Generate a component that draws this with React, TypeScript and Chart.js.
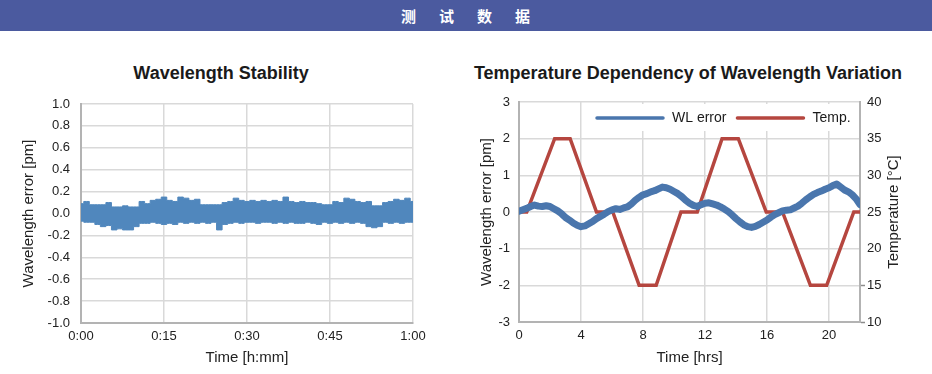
import React, { useEffect, useRef } from 'react';
import { Chart, registerables } from 'chart.js';

Chart.register(...registerables);

const HEADER_TEXT = '测试数据';
const LEFT_TITLE = 'Wavelength Stability';
const RIGHT_TITLE = 'Temperature Dependency of Wavelength Variation';

// Left chart: one-minute envelope of the noisy wavelength error band (pm)
const stabilityTickLabels = ['0:00', '0:15', '0:30', '0:45', '1:00'];
const stabilityMinutes = [
  0, 1, 2, 3, 4, 5, 6, 7, 8, 9, 10, 11, 12, 13, 14, 15, 16, 17, 18, 19, 20,
  21, 22, 23, 24, 25, 26, 27, 28, 29, 30, 31, 32, 33, 34, 35, 36, 37, 38, 39, 40,
  41, 42, 43, 44, 45, 46, 47, 48, 49, 50, 51, 52, 53, 54, 55, 56, 57, 58, 59, 60,
];
const stabilityUpper = [
  0.09, 0.11, 0.08, 0.08, 0.08, 0.1, 0.06, 0.06, 0.07, 0.06, 0.06,
  0.11, 0.09, 0.12, 0.13, 0.15, 0.12, 0.11, 0.15, 0.14, 0.12,
  0.13, 0.08, 0.08, 0.08, 0.08, 0.1, 0.11, 0.14, 0.12, 0.11,
  0.12, 0.11, 0.12, 0.11, 0.12, 0.11, 0.15, 0.11, 0.1, 0.11,
  0.1, 0.1, 0.09, 0.08, 0.08, 0.11, 0.1, 0.14, 0.13, 0.11,
  0.1, 0.11, 0.07, 0.07, 0.1, 0.11, 0.13, 0.12, 0.14, 0.11,
];
const stabilityLower = [
  -0.07, -0.08, -0.08, -0.1, -0.12, -0.11, -0.15, -0.14, -0.15, -0.15, -0.12,
  -0.09, -0.09, -0.08, -0.09, -0.1, -0.09, -0.1, -0.08, -0.09, -0.08,
  -0.09, -0.08, -0.09, -0.08, -0.15, -0.1, -0.09, -0.08, -0.09, -0.08,
  -0.08, -0.09, -0.08, -0.08, -0.09, -0.08, -0.09, -0.08, -0.09, -0.09,
  -0.08, -0.09, -0.1, -0.08, -0.09, -0.08, -0.09, -0.08, -0.09, -0.08,
  -0.09, -0.12, -0.13, -0.12, -0.08, -0.09, -0.08, -0.09, -0.08, -0.08,
];

// Right chart
const wlHours = [
  0, 0.25, 0.5, 0.75, 1, 1.25, 1.5, 1.75, 2, 2.25, 2.5, 2.75, 3, 3.25, 3.5, 3.75,
  4, 4.25, 4.5, 4.75, 5, 5.25, 5.5, 5.75, 6, 6.25, 6.5, 6.75, 7, 7.25, 7.5, 7.75,
  8, 8.25, 8.5, 8.75, 9, 9.25, 9.5, 9.75, 10, 10.25, 10.5, 10.75, 11, 11.25, 11.5, 11.75,
  12, 12.25, 12.5, 12.75, 13, 13.25, 13.5, 13.75, 14, 14.25, 14.5, 14.75, 15, 15.25, 15.5, 15.75,
  16, 16.25, 16.5, 16.75, 17, 17.25, 17.5, 17.75, 18, 18.25, 18.5, 18.75, 19, 19.25, 19.5, 19.75,
  20, 20.25, 20.5, 20.75, 21, 21.25, 21.5, 21.75, 22,
];
const wlError = [
  0.02, 0.06, 0.1, 0.15, 0.19, 0.16, 0.15, 0.17, 0.15, 0.09, 0.03, -0.05, -0.15, -0.22, -0.3, -0.36,
  -0.4, -0.38, -0.32, -0.26, -0.18, -0.12, -0.06, 0.01, 0.06, 0.09, 0.07, 0.11, 0.14, 0.22, 0.32, 0.4,
  0.47, 0.5, 0.55, 0.58, 0.63, 0.68, 0.66, 0.62, 0.56, 0.5, 0.42, 0.32, 0.24, 0.18, 0.15, 0.2,
  0.24, 0.25, 0.22, 0.19, 0.14, 0.08, 0.01, -0.08, -0.18, -0.27, -0.35, -0.4, -0.42, -0.39, -0.34, -0.28,
  -0.22, -0.14, -0.07, -0.02, 0.03, 0.05, 0.06, 0.11, 0.16, 0.24, 0.33, 0.41, 0.48, 0.53, 0.57, 0.62,
  0.66, 0.72, 0.76, 0.68, 0.6, 0.55, 0.47, 0.36, 0.2,
];
const tempHours = [0, 0.5, 2.3, 3.3, 5.0, 6.05, 7.75, 8.85, 10.45, 11.5, 13.1, 14.15, 15.95, 17.0, 18.8, 19.85, 21.6, 22];
const tempValues = [25, 25, 35, 35, 25, 25, 15, 15, 25, 25, 35, 35, 25, 25, 15, 15, 25, 25];

const FONT = '"Liberation Sans", Arial, Helvetica, sans-serif';
const TEXT = '#222222';
const GRID = '#d9d9d9';
const AXIS = '#b3b3b3';
const BLUE_L = '#5087bd';
const BLUE_R = '#4a76ad';
const RED = '#b5463f';

Chart.defaults.font.family = FONT;
Chart.defaults.color = TEXT;

const insideLegend = {
  id: 'insideLegend',
  afterDatasetsDraw(chart: any) {
    const { ctx, chartArea } = chart;
    const bx = chartArea.left + 66;
    const by = chartArea.top + 2;
    const bw = 267;
    const bh = 27;
    ctx.save();
    ctx.fillStyle = '#ffffff';
    ctx.fillRect(bx, by, bw, bh);
    ctx.font = `14px ${FONT}`;
    ctx.textBaseline = 'middle';
    ctx.textAlign = 'left';
    const y = by + 14;
    let x = bx + 12;
    chart.data.datasets.forEach((ds: any) => {
      ctx.strokeStyle = ds.borderColor;
      ctx.lineWidth = 3.5;
      ctx.lineCap = 'round';
      ctx.beginPath();
      ctx.moveTo(x, y);
      ctx.lineTo(x + 66, y);
      ctx.stroke();
      ctx.fillStyle = '#1a1a1a';
      ctx.fillText(ds.label, x + 75, y);
      x += 75 + ctx.measureText(ds.label).width + 11;
    });
    ctx.restore();
  },
};

// Right-axis title reading bottom-to-top (as in the reference)
const rightAxisTitle = {
  id: 'rightAxisTitle',
  afterDraw(chart: any, _args: any, opts: any) {
    const { ctx, chartArea } = chart;
    const s = chart.scales.y2;
    ctx.save();
    ctx.translate(s.right - opts.offset, (chartArea.top + chartArea.bottom) / 2);
    ctx.rotate(-Math.PI / 2);
    ctx.font = `15px ${FONT}`;
    ctx.fillStyle = TEXT;
    ctx.textAlign = 'center';
    ctx.textBaseline = 'middle';
    ctx.fillText(opts.text, 0, 0);
    ctx.restore();
  },
};

function StabilityChart() {
  const ref = useRef<HTMLCanvasElement>(null);
  useEffect(() => {
    const chart = new Chart(ref.current as HTMLCanvasElement, {
      type: 'line',
      data: {
        datasets: [
          {
            label: 'upper',
            data: stabilityMinutes.map((x, i) => ({ x, y: stabilityUpper[i] })),
            borderColor: BLUE_L,
            backgroundColor: BLUE_L,
            borderWidth: 1,
            pointRadius: 0,
            fill: '+1',
            stepped: 'middle',
          },
          {
            label: 'lower',
            data: stabilityMinutes.map((x, i) => ({ x, y: stabilityLower[i] })),
            borderColor: BLUE_L,
            backgroundColor: BLUE_L,
            borderWidth: 1,
            pointRadius: 0,
            fill: false,
            stepped: 'middle',
          },
        ],
      },
      options: {
        responsive: false,
        animation: false,
        layout: { padding: { top: 64, right: 37, bottom: 0, left: 0 } },
        plugins: { legend: { display: false }, tooltip: { enabled: false } },
        scales: {
          x: {
            type: 'linear',
            min: 0,
            max: 60,
            ticks: {
              stepSize: 15,
              callback: (v: any) => stabilityTickLabels[Math.round(Number(v) / 15)],
              padding: 6,
              maxRotation: 0,
              font: { size: 13 },
              color: TEXT,
            },
            grid: { color: GRID, lineWidth: 1.5, drawTicks: false },
            border: { color: AXIS, width: 2 },
            title: { display: true, text: 'Time [h:mm]', font: { size: 15 }, color: TEXT, padding: { top: 0, bottom: 7 } },
            afterFit: (s: any) => { s.height = 51; },
          },
          y: {
            type: 'linear',
            min: -1,
            max: 1,
            ticks: {
              stepSize: 0.2,
              callback: (v: any) => (Math.abs(Number(v)) < 1e-9 ? 0 : Number(v)).toFixed(1),
              padding: 11,
              font: { size: 13 },
              color: TEXT,
            },
            grid: { color: GRID, lineWidth: 1.5, drawTicks: false },
            border: { color: AXIS, width: 2 },
            title: { display: true, text: 'Wavelength error [pm]', font: { size: 15 }, color: TEXT, padding: { top: 20, bottom: 0 } },
            afterFit: (s: any) => { s.width = 81; },
          },
        },
      },
    } as any);
    return () => chart.destroy();
  }, []);
  return <canvas ref={ref} width={450} height={334} style={{ position: 'absolute', left: 0, top: 40, width: 450, height: 334 }} />;
}

function TemperatureChart() {
  const ref = useRef<HTMLCanvasElement>(null);
  useEffect(() => {
    const chart = new Chart(ref.current as HTMLCanvasElement, {
      type: 'line',
      data: {
        datasets: [
          {
            label: 'WL error',
            data: wlHours.map((x, i) => ({ x, y: wlError[i] })),
            yAxisID: 'y',
            borderColor: BLUE_R,
            backgroundColor: BLUE_R,
            borderWidth: 7,
            borderJoinStyle: 'round',
            borderCapStyle: 'round',
            pointRadius: 0,
            fill: false,
          },
          {
            label: 'Temp.',
            data: tempHours.map((x, i) => ({ x, y: tempValues[i] })),
            yAxisID: 'y2',
            borderColor: RED,
            backgroundColor: RED,
            borderWidth: 3.5,
            pointRadius: 0,
            fill: false,
          },
        ],
      },
      options: {
        responsive: false,
        animation: false,
        layout: { padding: { top: 62, right: 0, bottom: 0, left: 0 } },
        plugins: {
          legend: { display: false },
          tooltip: { enabled: false },
          rightAxisTitle: { text: 'Temperature [°C]', offset: 38 },
        },
        scales: {
          x: {
            type: 'linear',
            min: 0,
            max: 22,
            ticks: { stepSize: 4, includeBounds: false, padding: 6, maxRotation: 0, font: { size: 13 }, color: TEXT },
            grid: { color: GRID, lineWidth: 1.5, drawTicks: false },
            border: { color: AXIS, width: 2 },
            title: { display: true, text: 'Time [hrs]', font: { size: 15 }, color: TEXT, padding: { top: 0, bottom: 7 } },
            afterFit: (s: any) => { s.height = 52; },
          },
          y: {
            type: 'linear',
            position: 'left',
            min: -3,
            max: 3,
            ticks: { stepSize: 1, padding: 9, font: { size: 13 }, color: TEXT },
            grid: { color: GRID, lineWidth: 1.5, drawTicks: false },
            border: { color: AXIS, width: 2 },
            title: { display: true, text: 'Wavelength error [pm]', font: { size: 15 }, color: TEXT, padding: { top: 28, bottom: 0 } },
            afterFit: (s: any) => { s.width = 69; },
          },
          y2: {
            type: 'linear',
            position: 'right',
            min: 10,
            max: 40,
            ticks: { stepSize: 5, padding: 2, font: { size: 13 }, color: TEXT },
            grid: {
              drawOnChartArea: false,
              drawTicks: true,
              tickLength: 5,
              tickWidth: 1.5,
              tickColor: (c: any) => (c.tick && c.tick.value <= 15 ? '#8c8c8c' : 'rgba(0,0,0,0)'),
            },
            border: { color: AXIS, width: 2 },
            title: { display: false },
            afterFit: (s: any) => { s.width = 72; },
          },
        },
      },
      plugins: [insideLegend, rightAxisTitle],
    } as any);
    return () => chart.destroy();
  }, []);
  return <canvas ref={ref} width={482} height={334} style={{ position: 'absolute', left: 450, top: 40, width: 482, height: 334 }} />;
}

export default function App() {
  return (
    <div style={{ position: 'fixed', left: 0, top: 0, width: 932, height: 374, background: '#ffffff', overflow: 'hidden', fontFamily: FONT }}>
      <div style={{ position: 'absolute', left: 0, top: 0, width: 932, height: 31, background: '#4b5a9f' }} />
      <div
        style={{
          position: 'absolute', left: 401, top: 0, height: 31, lineHeight: '31px',
          fontFamily: '"Noto Sans CJK SC", sans-serif', fontSize: 15, fontWeight: 700,
          color: '#ffffff', letterSpacing: '23px', whiteSpace: 'nowrap',
        }}
      >
        {HEADER_TEXT}
      </div>
      <div style={{ position: 'absolute', left: 21, top: 62, width: 400, textAlign: 'center', fontSize: 18, fontWeight: 700, lineHeight: '22px', color: '#1a1a1a' }}>
        {LEFT_TITLE}
      </div>
      <div style={{ position: 'absolute', left: 388, top: 62, width: 600, textAlign: 'center', fontSize: 18, fontWeight: 700, lineHeight: '22px', color: '#1a1a1a' }}>
        {RIGHT_TITLE}
      </div>
      <StabilityChart />
      <TemperatureChart />
    </div>
  );
}
